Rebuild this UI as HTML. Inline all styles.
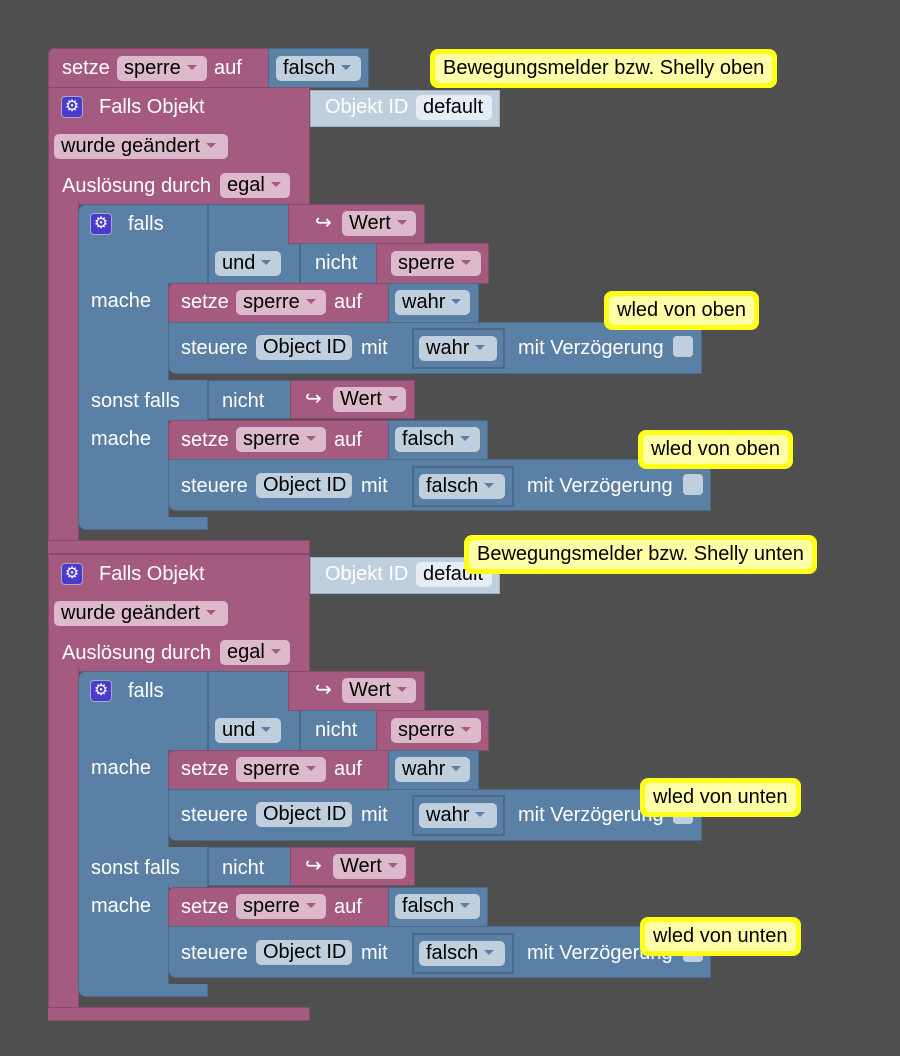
<!DOCTYPE html>
<html><head><meta charset="utf-8"><style>
body{margin:0;width:900px;height:1056px;background:#4f4f4f;overflow:hidden;font-family:"Liberation Sans",sans-serif;font-size:20px;position:relative}
div,span{position:absolute;box-sizing:border-box}
.p{background:#a55b80;border:1px solid #8a4a6b}
.b{background:#5b80a5;border:1px solid #4a6a8a}
.t{color:#fff;line-height:22px;white-space:nowrap}
.f{border-radius:5px;color:#000;line-height:25px;height:25px;padding-left:7px;white-space:nowrap}
.fp{background:#dcbacb}
.fb{background:#c0cfde}
.a{position:relative;display:inline-block;width:0;height:0;border-left:5px solid transparent;border-right:5px solid transparent;border-top:5px solid #5b80a5;margin-left:6px;top:-4px}
.fp .a{border-top-color:#a55b80}
.g{left:0;width:900px;height:500px}
.gear{width:22px;height:22px;background:#4a3bd0;border:1px solid #aab;border-radius:4px;color:#fff;font-size:16px;line-height:20px;text-align:center}
.cm{background:#ffff1a;border-radius:8px;padding:5px}
.cm span{position:static;display:block;background:#ffffa8;border-radius:5px;padding:0 8px;line-height:29px;color:#000;white-space:nowrap;font-size:20px}
.nest{border:2px solid #4a6a8a;background:#5b80a5}
.cb{width:20px;height:21px;background:#c0cfde;border-radius:4px}
</style></head><body>

<div class="p" style="left:48px;top:48px;width:222px;height:40px;border-radius:6px 0 0 0"></div>
<div class="t" style="left:62px;top:57px">setze</div>
<div class="f fp" style="left:117px;top:56px;width:90px">sperre<span class="a"></span></div>
<div class="t" style="left:214px;top:57px">auf</div>
<div class="b" style="left:268px;top:48px;width:101px;height:40px"></div>
<div class="f fb" style="left:276px;top:56px;width:85px">falsch<span class="a"></span></div>
<div class="cm" style="left:430px;top:49px"><span>Bewegungsmelder bzw. Shelly oben</span></div>

<div class="g" style="top:0">
<div class="p" style="left:48px;top:87px;width:262px;height:118px"></div>
<div class="p" style="left:48px;top:200px;width:31px;height:353px;border-top:none;border-radius:0 0 0 8px"></div>
<div class="p" style="left:48px;top:540px;width:262px;height:14px;border-left:none"></div>
<div class="gear" style="left:61px;top:96px">⚙</div>
<div class="t" style="left:99px;top:96px">Falls Objekt</div>
<div style="left:310px;top:90px;width:190px;height:37px;background:#c0cfde;border:1px solid #9fb2c6"></div>
<div class="t" style="left:325px;top:96px">Objekt ID</div>
<div class="f" style="left:416px;top:95px;width:76px;background:#e6edf4">default</div>
<div class="f fp" style="left:54px;top:134px;width:174px">wurde geändert<span class="a"></span></div>
<div class="t" style="left:62px;top:175px">Auslösung durch</div>
<div class="f fp" style="left:220px;top:173px;width:70px">egal<span class="a"></span></div>

<div class="b" style="left:78px;top:204px;width:130px;height:80px;border-radius:8px 0 0 0"></div>
<div class="b" style="left:78px;top:282px;width:91px;height:100px;border-top:none;border-bottom:none"></div>
<div class="b" style="left:78px;top:380px;width:130px;height:41px;border-top:none;border-bottom:none"></div>
<div class="b" style="left:78px;top:419px;width:91px;height:101px;border-top:none;border-bottom:none"></div>
<div class="b" style="left:78px;top:517px;width:130px;height:13px;border-top:none;border-radius:0 0 0 8px"></div>
<div class="gear" style="left:90px;top:213px">⚙</div>
<div class="t" style="left:128px;top:213px">falls</div>
<div class="b" style="left:208px;top:204px;width:92px;height:80px"></div>
<div class="p" style="left:288px;top:204px;width:137px;height:40px"></div>
<div class="t" style="left:315px;top:212px">↪</div>
<div class="f fp" style="left:342px;top:211px;width:74px">Wert<span class="a"></span></div>
<div class="f fb" style="left:215px;top:251px;width:66px">und<span class="a"></span></div>
<div class="b" style="left:300px;top:243px;width:77px;height:41px"></div>
<div class="t" style="left:315px;top:252px">nicht</div>
<div class="p" style="left:376px;top:243px;width:113px;height:41px"></div>
<div class="f fp" style="left:391px;top:251px;width:90px">sperre<span class="a"></span></div>
<div class="t" style="left:91px;top:290px">mache</div>

<div class="p" style="left:168px;top:283px;width:221px;height:40px;border-radius:6px 0 0 0"></div>
<div class="t" style="left:181px;top:291px">setze</div>
<div class="f fp" style="left:236px;top:290px;width:90px">sperre<span class="a"></span></div>
<div class="t" style="left:334px;top:291px">auf</div>
<div class="b" style="left:388px;top:283px;width:91px;height:40px"></div>
<div class="f fb" style="left:395px;top:290px;width:75px">wahr<span class="a"></span></div>
<div class="b" style="left:168px;top:322px;width:534px;height:52px;border-radius:0 0 0 8px"></div>
<div class="t" style="left:181px;top:337px">steuere</div>
<div class="f fb" style="left:256px;top:335px;width:96px">Object ID</div>
<div class="t" style="left:361px;top:337px">mit</div>
<div class="nest" style="left:412px;top:328px;width:93px;height:41px"></div>
<div class="f fb" style="left:419px;top:336px;width:78px">wahr<span class="a"></span></div>
<div class="t" style="left:518px;top:337px">mit Verzögerung</div>
<div class="cb" style="left:673px;top:336px"></div>
<div class="cm" style="left:604px;top:291px"><span>wled von oben</span></div>

<div class="t" style="left:91px;top:390px">sonst falls</div>
<div class="b" style="left:208px;top:380px;width:83px;height:39px"></div>
<div class="t" style="left:222px;top:390px">nicht</div>
<div class="p" style="left:290px;top:380px;width:125px;height:39px"></div>
<div class="t" style="left:305px;top:388px">↪</div>
<div class="f fp" style="left:333px;top:387px;width:73px">Wert<span class="a"></span></div>
<div class="t" style="left:91px;top:428px">mache</div>

<div class="p" style="left:168px;top:420px;width:221px;height:40px;border-radius:6px 0 0 0"></div>
<div class="t" style="left:181px;top:429px">setze</div>
<div class="f fp" style="left:236px;top:427px;width:90px">sperre<span class="a"></span></div>
<div class="t" style="left:334px;top:429px">auf</div>
<div class="b" style="left:388px;top:420px;width:100px;height:40px"></div>
<div class="f fb" style="left:395px;top:427px;width:85px">falsch<span class="a"></span></div>
<div class="b" style="left:168px;top:459px;width:543px;height:52px;border-radius:0 0 0 8px"></div>
<div class="t" style="left:181px;top:475px">steuere</div>
<div class="f fb" style="left:256px;top:473px;width:96px">Object ID</div>
<div class="t" style="left:361px;top:475px">mit</div>
<div class="nest" style="left:412px;top:466px;width:102px;height:41px"></div>
<div class="f fb" style="left:419px;top:474px;width:86px">falsch<span class="a"></span></div>
<div class="t" style="left:527px;top:475px">mit Verzögerung</div>
<div class="cb" style="left:683px;top:474px"></div>
<div class="cm" style="left:638px;top:430px"><span>wled von oben</span></div>
</div>

<div class="g" style="top:467px">
<div class="p" style="left:48px;top:87px;width:262px;height:118px"></div>
<div class="p" style="left:48px;top:200px;width:31px;height:353px;border-top:none;border-radius:0 0 0 8px"></div>
<div class="p" style="left:48px;top:540px;width:262px;height:14px;border-left:none"></div>
<div class="gear" style="left:61px;top:96px">⚙</div>
<div class="t" style="left:99px;top:96px">Falls Objekt</div>
<div style="left:310px;top:90px;width:190px;height:37px;background:#c0cfde;border:1px solid #9fb2c6"></div>
<div class="t" style="left:325px;top:96px">Objekt ID</div>
<div class="f" style="left:416px;top:95px;width:76px;background:#e6edf4">default</div>
<div class="f fp" style="left:54px;top:134px;width:174px">wurde geändert<span class="a"></span></div>
<div class="t" style="left:62px;top:175px">Auslösung durch</div>
<div class="f fp" style="left:220px;top:173px;width:70px">egal<span class="a"></span></div>

<div class="b" style="left:78px;top:204px;width:130px;height:80px;border-radius:8px 0 0 0"></div>
<div class="b" style="left:78px;top:282px;width:91px;height:100px;border-top:none;border-bottom:none"></div>
<div class="b" style="left:78px;top:380px;width:130px;height:41px;border-top:none;border-bottom:none"></div>
<div class="b" style="left:78px;top:419px;width:91px;height:101px;border-top:none;border-bottom:none"></div>
<div class="b" style="left:78px;top:517px;width:130px;height:13px;border-top:none;border-radius:0 0 0 8px"></div>
<div class="gear" style="left:90px;top:213px">⚙</div>
<div class="t" style="left:128px;top:213px">falls</div>
<div class="b" style="left:208px;top:204px;width:92px;height:80px"></div>
<div class="p" style="left:288px;top:204px;width:137px;height:40px"></div>
<div class="t" style="left:315px;top:212px">↪</div>
<div class="f fp" style="left:342px;top:211px;width:74px">Wert<span class="a"></span></div>
<div class="f fb" style="left:215px;top:251px;width:66px">und<span class="a"></span></div>
<div class="b" style="left:300px;top:243px;width:77px;height:41px"></div>
<div class="t" style="left:315px;top:252px">nicht</div>
<div class="p" style="left:376px;top:243px;width:113px;height:41px"></div>
<div class="f fp" style="left:391px;top:251px;width:90px">sperre<span class="a"></span></div>
<div class="t" style="left:91px;top:290px">mache</div>

<div class="p" style="left:168px;top:283px;width:221px;height:40px;border-radius:6px 0 0 0"></div>
<div class="t" style="left:181px;top:291px">setze</div>
<div class="f fp" style="left:236px;top:290px;width:90px">sperre<span class="a"></span></div>
<div class="t" style="left:334px;top:291px">auf</div>
<div class="b" style="left:388px;top:283px;width:91px;height:40px"></div>
<div class="f fb" style="left:395px;top:290px;width:75px">wahr<span class="a"></span></div>
<div class="b" style="left:168px;top:322px;width:534px;height:52px;border-radius:0 0 0 8px"></div>
<div class="t" style="left:181px;top:337px">steuere</div>
<div class="f fb" style="left:256px;top:335px;width:96px">Object ID</div>
<div class="t" style="left:361px;top:337px">mit</div>
<div class="nest" style="left:412px;top:328px;width:93px;height:41px"></div>
<div class="f fb" style="left:419px;top:336px;width:78px">wahr<span class="a"></span></div>
<div class="t" style="left:518px;top:337px">mit Verzögerung</div>
<div class="cb" style="left:673px;top:336px"></div>
<div class="cm" style="left:640px;top:311px"><span>wled von unten</span></div>

<div class="t" style="left:91px;top:390px">sonst falls</div>
<div class="b" style="left:208px;top:380px;width:83px;height:39px"></div>
<div class="t" style="left:222px;top:390px">nicht</div>
<div class="p" style="left:290px;top:380px;width:125px;height:39px"></div>
<div class="t" style="left:305px;top:388px">↪</div>
<div class="f fp" style="left:333px;top:387px;width:73px">Wert<span class="a"></span></div>
<div class="t" style="left:91px;top:428px">mache</div>

<div class="p" style="left:168px;top:420px;width:221px;height:40px;border-radius:6px 0 0 0"></div>
<div class="t" style="left:181px;top:429px">setze</div>
<div class="f fp" style="left:236px;top:427px;width:90px">sperre<span class="a"></span></div>
<div class="t" style="left:334px;top:429px">auf</div>
<div class="b" style="left:388px;top:420px;width:100px;height:40px"></div>
<div class="f fb" style="left:395px;top:427px;width:85px">falsch<span class="a"></span></div>
<div class="b" style="left:168px;top:459px;width:543px;height:52px;border-radius:0 0 0 8px"></div>
<div class="t" style="left:181px;top:475px">steuere</div>
<div class="f fb" style="left:256px;top:473px;width:96px">Object ID</div>
<div class="t" style="left:361px;top:475px">mit</div>
<div class="nest" style="left:412px;top:466px;width:102px;height:41px"></div>
<div class="f fb" style="left:419px;top:474px;width:86px">falsch<span class="a"></span></div>
<div class="t" style="left:527px;top:475px">mit Verzögerung</div>
<div class="cb" style="left:683px;top:474px"></div>
<div class="cm" style="left:640px;top:450px"><span>wled von unten</span></div>
</div>
<div class="cm" style="left:464px;top:535px"><span>Bewegungsmelder bzw. Shelly unten</span></div>
</body></html>
